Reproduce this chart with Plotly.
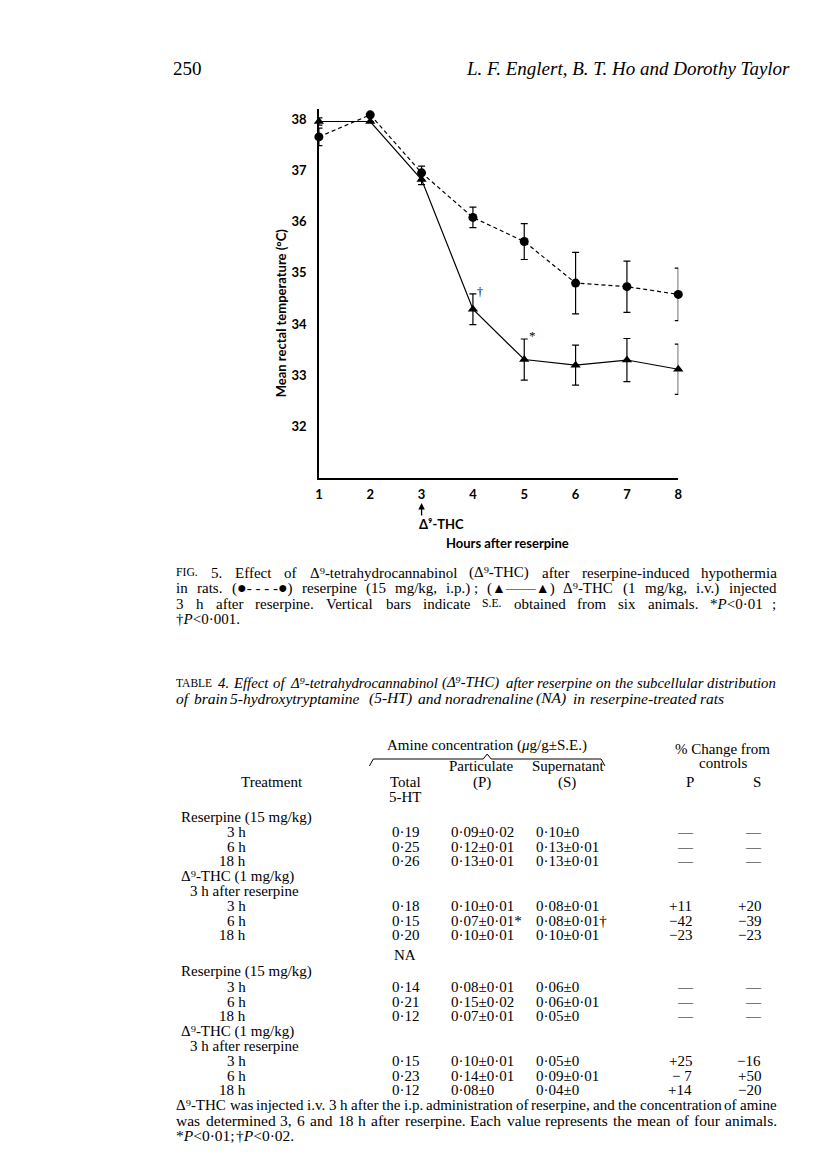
import re
import plotly.graph_objects as go

# ---- figure data (Fig. 5) ----
hours = [1, 2, 3, 4, 5, 6, 7, 8]
reserpine_temp = [37.65, 38.08, 36.95, 36.08, 35.61, 34.80, 34.73, 34.58]
reserpine_se = [0.17, 0.0, 0.13, 0.20, 0.35, 0.60, 0.50, 0.51]
thc_temp = [37.95, 37.95, 36.82, 34.29, 33.31, 33.20, 33.30, 33.12]
thc_se = [0.07, 0.0, 0.10, 0.30, 0.40, 0.39, 0.42, 0.49]
y_ticks = [32, 33, 34, 35, 36, 37, 38]

# ---- table data (Table 4) ----
times = ['3 h', '6 h', '18 h']
ht_total = ['0·19', '0·25', '0·26', '0·18', '0·15', '0·20']
ht_part = ['0·09±0·02', '0·12±0·01', '0·13±0·01', '0·10±0·01', '0·07±0·01*', '0·10±0·01']
ht_sup = ['0·10±0', '0·13±0·01', '0·13±0·01', '0·08±0·01', '0·08±0·01†', '0·10±0·01']
ht_chg_p = ['—', '—', '—', '+11', '−42', '−23']
ht_chg_s = ['—', '—', '—', '+20', '−39', '−23']
na_total = ['0·14', '0·21', '0·12', '0·15', '0·23', '0·12']
na_part = ['0·08±0·01', '0·15±0·02', '0·07±0·01', '0·10±0·01', '0·14±0·01', '0·08±0']
na_sup = ['0·06±0', '0·06±0·01', '0·05±0', '0·05±0', '0·09±0·01', '0·04±0']
na_chg_p = ['—', '—', '—', '+25', '− 7', '+14']
na_chg_s = ['—', '—', '—', '−16', '+50', '−20']

W, H = 816, 1170
OFF = 8  # default body margin of the html page
SERIF = 'Liberation Serif'
SANS = 'Lato'


def px(x):
    return (x - OFF) / (W - 2 * OFF)


def py(y):
    return 1 - (y - OFF) / (H - 2 * OFF)


# Times / Liberation Serif advance widths (per 1000 em), rough
CW = {}
for chars, v in [('ijlt', 278), ('fr', 333), ('s', 389), ('acez', 444),
                 ('bdghknopquvxy', 500), ('w', 722), ('m', 778), ('I', 333), ('J', 389),
                 ('FPS', 556), ('ELTZ', 611), ('BCR', 667), ('ADGHKNOQUVXY', 722),
                 ('M', 889), ('W', 944), ('0123456789', 500), (' .,·\u00a0', 250),
                 (':;/', 278), ('()-', 333), ('<>±+=−', 564), ('*†', 500), ('%', 833),
                 ('Δ', 650), ('⁹', 380), ('●', 650), ('▲', 900), ('—', 1000), ('μ', 500)]:
    for c in chars:
        CW[c] = v


def text_w(s, size):
    s = re.sub('<[^>]+>', '', s)
    return sum(CW.get(c, 500) for c in s) * size / 1000


annots = []


def note(text, x, y, size=15, family=SERIF, xanchor='left', **kw):
    annots.append(dict(text=text, x=px(x), y=py(y), xref='paper', yref='paper',
                       xanchor=xanchor, yanchor='middle', showarrow=False,
                       font=dict(family=family, size=size, color='black'), **kw))


SMALLCAPS = {'FIG.', 'S.E.', 'TABLE'}
SYMS = {'{D}': '<span style="font-size:16px">●</span>',
        '{T}': '<span style="font-size:14px">▲</span>'}


def justify(line, y, size, x0=172, x1=778, just=True, italic=False):
    words = []
    for w in line.split(' '):
        for k, v in SYMS.items():
            w = w.replace(k, v)
        words.append(w)
    k_it = 1.03 if italic else 1.0
    while True:
        sizes = [size * 0.78 if w in SMALLCAPS else size for w in words]
        widths = [text_w(w, s) * k_it for w, s in zip(words, sizes)]
        if just and len(words) > 1:
            gap = (x1 - x0 - sum(widths)) / (len(words) - 1)
        else:
            gap = size * 0.27
        if gap >= size * 0.22:
            break
        size -= 0.25
    x = x0
    for w, s, wd in zip(words, sizes, widths):
        t = '<i>' + w + '</i>' if italic and w not in SMALLCAPS else w
        note(t, x, y, size=s)
        x += wd + gap


# ---- chart ----
fig = go.Figure()
fig.add_trace(go.Scatter(
    x=hours, y=reserpine_temp, mode='lines+markers', cliponaxis=False,
    line=dict(color='black', width=1.2, dash='4px,3px'),
    marker=dict(symbol='circle', size=9, color='black'),
    error_y=dict(type='data', array=reserpine_se, color='black', thickness=1.2, width=3.5)))
fig.add_trace(go.Scatter(
    x=hours, y=thc_temp, mode='lines+markers', cliponaxis=False,
    line=dict(color='black', width=1.2),
    marker=dict(symbol='triangle-up', size=9, color='black'),
    error_y=dict(type='data', array=thc_se, color='black', thickness=1.2, width=3.5)))

x0p, x1p = 318, 681
y_bot, y_top = 478, 108.7
fig.update_xaxes(domain=[px(x0p), px(x1p)], range=[1, 8], tickvals=hours,
                 showgrid=False, zeroline=False, showline=True, linecolor='black',
                 linewidth=1.5, ticks='', ticklabelstandoff=4,
                 tickfont=dict(family=SANS, size=13, color='black', weight='bold'))
fig.update_yaxes(domain=[py(y_bot), py(y_top)], range=[31, 38.2], tickvals=y_ticks,
                 showgrid=False, zeroline=False, showline=True, linecolor='black',
                 linewidth=1.5, ticks='', ticklabelstandoff=8,
                 tickfont=dict(family=SANS, size=13, color='black', weight='bold'))

# significance marks
annots.append(dict(text='†', x=4.14, y=34.62, xref='x', yref='y', showarrow=False,
                   font=dict(family=SERIF, size=12, color='black')))
annots.append(dict(text='*', x=5.16, y=33.78, xref='x', yref='y', showarrow=False,
                   font=dict(family=SERIF, size=13, color='black')))
# injection arrow
annots.append(dict(text='', x=3, y=py(503), xref='x', yref='paper', showarrow=True,
                   ax=0, ay=14, arrowhead=2, arrowsize=1, arrowwidth=1.3,
                   arrowcolor='black'))
note('<b>Δ⁹-THC</b>', 417, 524, size=13, family=SANS)
note('<b>Hours after reserpine</b>', 508, 543, size=13, family=SANS, xanchor='center')
note('<b>Mean rectal temperature (°C)</b>', 280, 313, size=13, family=SANS,
     xanchor='center', textangle=-90)

# ---- page header ----
note('250', 169, 68, size=19)
note('<i>L. F. Englert, B. T. Ho and Dorothy Taylor</i>', 796, 68, size=19, xanchor='right')

# ---- figure caption ----
justify('FIG. 5. Effect of Δ⁹-tetrahydrocannabinol (Δ⁹-THC) after reserpine-induced hypothermia', 572.5, 15)
justify('in rats. ({D}-\u00a0-\u00a0-\u00a0-{D}) reserpine (15 mg/kg, i.p.)\u00a0; ({T}——{T}) Δ⁹-THC (1 mg/kg, i.v.) injected', 588, 15)
justify('3 h after reserpine. Vertical bars indicate S.E. obtained from six animals. *<i>P</i><0·01 ;', 603.5, 15)
justify('†<i>P</i><0·001.', 619, 15, just=False)

# ---- table title ----
justify('TABLE 4. Effect of Δ⁹-tetrahydrocannabinol (Δ⁹-THC) after reserpine on the subcellular distribution', 683, 15.5, italic=True)
justify('of brain 5-hydroxytryptamine (5-HT) and noradrenaline (NA) in reserpine-treated rats', 698, 15.5, just=False, italic=True)

# ---- table header ----
note('Amine concentration (<i>μ</i>g/g±S.E.)', 488, 745, xanchor='center')
note('% Change from', 726, 749, xanchor='center')
note('controls', 726, 763, xanchor='center')
note('Particulate', 482, 766, xanchor='center')
note('Supernatant', 570, 766, xanchor='center')
for t, x in [('Treatment', 271), ('Total', 405), ('(P)', 483), ('(S)', 569), ('P', 693), ('S', 761)]:
    note(t, x, 782, xanchor='center')
note('5-HT', 405, 797, xanchor='center')

# brace over the amine columns
brace = 'M {},{} L {},{} L {},{} L {},{} L {},{} L {},{} L {},{}'.format(
    px(369), py(766), px(373), py(759), px(484), py(759), px(488), py(754),
    px(492), py(759), px(603), py(759), px(607), py(766))
shapes = [dict(type='path', path=brace, xref='paper', yref='paper',
               line=dict(color='black', width=1))]


def block(y0, totals, parts, sups, chg_p, chg_s, pitch=14.8):
    rows = [('Reserpine (15 mg/kg)', None)] + [(t, i) for i, t in enumerate(times)] + \
           [('Δ⁹-THC (1 mg/kg)', None), ('3 h after reserpine', None)] + \
           [(t, i + 3) for i, t in enumerate(times)]
    y = y0
    for label, i in rows:
        if i is None:
            note(label, 186 if label.startswith('3 h') else 177, y)
        else:
            note(label, 246, y, xanchor='right')
            note(totals[i], 390, y)
            note(parts[i], 449, y)
            note(sups[i], 535, y)
            for val, xc, xr in [(chg_p[i], 688, 697), (chg_s[i], 757, 767)]:
                if val == '—':
                    note(val, xc, y, xanchor='center')
                else:
                    note(val, xr, y, xanchor='right')
        y += pitch


block(817, ht_total, ht_part, ht_sup, ht_chg_p, ht_chg_s)
note('NA', 392, 955)
block(972, na_total, na_part, na_sup, na_chg_p, na_chg_s)

# ---- table footnote ----
justify('Δ⁹-THC was injected i.v. 3 h after the i.p. administration of reserpine, and the concentration of amine', 1105, 15.5)
justify('was determined 3, 6 and 18 h after reserpine. Each value represents the mean of four animals.', 1120, 15.5)
justify('*<i>P</i><0·01; †<i>P</i><0·02.', 1135, 15.5, just=False)

fig.update_layout(width=W - 2 * OFF, height=H - 2 * OFF, margin=dict(l=0, r=0, t=0, b=0),
                  paper_bgcolor='white', plot_bgcolor='white', showlegend=False,
                  annotations=annots, shapes=shapes)
fig.write_html('out.html')
